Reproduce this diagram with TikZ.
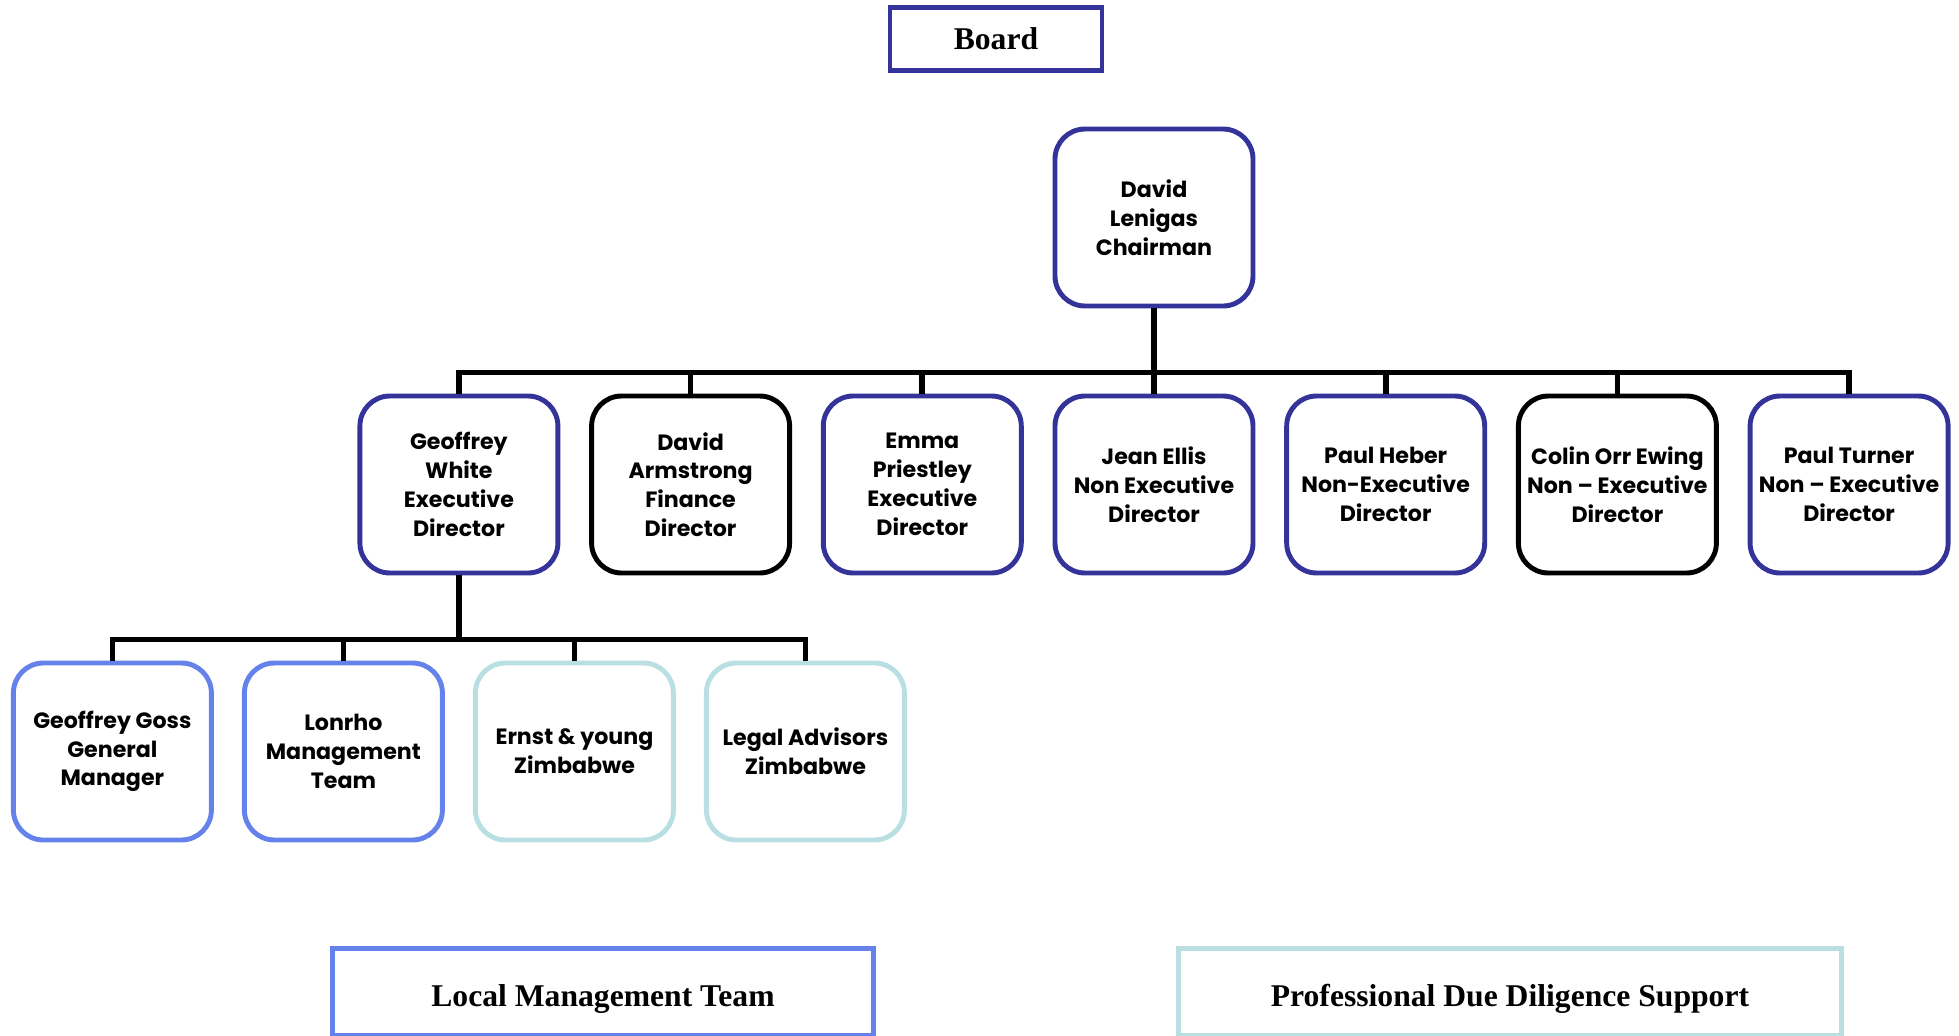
\documentclass[tikz,border=0pt]{standalone}
\usepackage{fontspec}
\setmainfont{Liberation Serif}
\newfontfamily\gothic{Poppins}
\definecolor{boardblue}{HTML}{333399}
\definecolor{localblue}{HTML}{6482EA}
\definecolor{proteal}{HTML}{B9DFE3}
\begin{document}
\begin{tikzpicture}[level distance=2.67cm,level 1/.style={sibling distance=2.317cm},level 2/.style={sibling distance=2.31cm},
	person/.style={draw=boardblue,line width=1.4pt,rounded corners=0.3cm,minimum width=1.98cm,minimum height=1.77cm,inner sep=1pt,align=center,font=\gothic\bfseries\fontsize{6.3}{8.2}\selectfont},
	every child node/.style={person},
	banner/.style={draw,line width=1.4pt,font=\bfseries\fontsize{9}{11}\selectfont},
	edge from parent/.style={draw,line width=1.6pt},
	edge from parent path={(\tikzparentnode.south) -- ++(0,-0.64) -| (\tikzchildnode.north)}]
	\useasboundingbox (0,0) rectangle (19.59,-10.36);
	\node[banner,draw=boardblue,minimum width=2.12cm,minimum height=0.63cm] (board) at (9.96,-0.39) {Board};
	\node[person] (chair) at (11.54,-2.175) {David\\Lenigas\\Chairman}
		child { node (gwhite) {Geoffrey\\White\\Executive\\Director}
				child{ node[draw=localblue] (ggoss) {Geoffrey Goss\\General\\Manager}}
				child{ node[draw=localblue] (lonrho) {Lonrho\\Management\\Team}}
				child{ node[draw=proteal] (ernst) {Ernst \& young\\Zimbabwe}}
				child{ node[draw=proteal] (legal) {Legal Advisors\\Zimbabwe}}}
		child { node[draw=black] (darmstrong) {David\\Armstrong\\Finance\\Director}}
		child { node (epriestley) {Emma\\Priestley\\Executive\\Director}}
		child { node (jellis) {Jean Ellis\\Non Executive\\Director}}
		child { node (pheber) {Paul Heber\\Non-Executive\\Director}}
		child { node[draw=black] (cewing) {Colin Orr Ewing\\Non – Executive\\Director}}
		child { node (pturner) {Paul Turner\\Non – Executive\\Director}}
	;
	\node[banner,draw=localblue,minimum width=5.41cm,minimum height=0.87cm,text height=0.36cm,text depth=0.07cm] (localteam) at (6.03,-9.92) {Local Management Team};
	\node[banner,draw=proteal,minimum width=6.63cm,minimum height=0.87cm,text height=0.36cm,text depth=0.07cm] (duediligence) at (15.10,-9.92) {Professional Due Diligence Support};
\end{tikzpicture}
\end{document}
